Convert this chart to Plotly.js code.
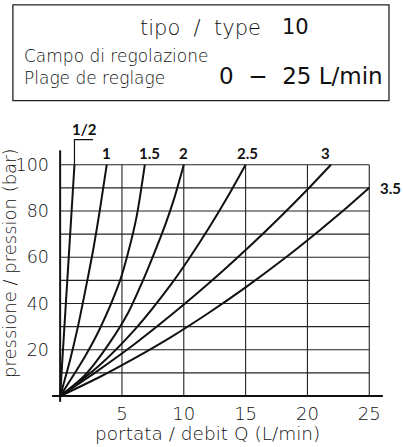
<!DOCTYPE html>
<html>
<head>
<meta charset="utf-8">
<script src="https://cdn.plot.ly/plotly-3.0.1.min.js"></script>
<style>
  html, body { margin: 0; padding: 0; background: #fff; }
  #chart { width: 403px; height: 447px; }
</style>
</head>
<body>
<div id="chart"></div>
<script>
// ---------------- DATA ----------------
const curveLabels = ['1/2', '1', '1.5', '2', '2.5', '3', '3.5'];
// flow Q (L/min) and pressure p (bar), one pair per curve
const q_half = [0, 0.3, 0.58, 0.87, 1.16];
const p_half = [0, 26, 50, 75, 100];
const q_1 = [0, 0.8, 1.43, 2.2, 2.7, 3.23, 3.77];
const p_1 = [0, 15.5, 29.8, 50, 64, 81, 100];
const q_15 = [0, 2, 3.23, 4.85, 5.5, 6.2, 6.85];
const p_15 = [0, 17, 29.3, 50, 62, 78, 100];
const q_2 = [0, 2, 4, 5.5, 6.7, 7.4, 8.5, 9.2, 10];
const p_2 = [0, 9, 23, 36, 50, 59, 74, 85, 100];
const q_25 = [0, 3, 6, 9, 10.5, 12, 13.5, 15];
const p_25 = [0, 12.4, 28.5, 48.5, 60, 72.4, 85.7, 100];
const q_3 = [0, 3, 6, 9, 12, 15, 18, 20, 21.9];
const p_3 = [0, 10.8, 22.4, 35.1, 48.6, 63.1, 78.5, 89.3, 100];
const q_35 = [0, 3, 6, 9, 12, 15, 18, 21, 23, 25];
const p_35 = [0, 7.7, 16.3, 25.6, 35.9, 47, 58.9, 71.7, 80.6, 90];

const xTicks = [5, 10, 15, 20, 25];
const yTicks = [20, 40, 60, 80, 100];
const xGrid = [5, 10, 15, 20, 25];
const yGrid = [10, 20, 30, 40, 50, 60, 70, 80, 90, 100];

const NB = '\u00A0';
const headerType = 'tipo' + NB + NB + '/' + NB + NB + 'type';
const headerTypeValue = '10';
const headerRangeIt = 'Campo di regolazione';
const headerRangeFr = 'Plage de reglage';
const headerRangeValue = '0' + NB + NB + '\u2212' + NB + NB + '25' + NB + 'L/min';
const xTitle = 'portata' + NB + '/' + NB + 'debit' + NB + 'Q' + NB + '(L/min)';
const yTitle = 'pressione / pression (bar)';

// ---------------- LAYOUT / STYLE ----------------
const W = 403, H = 447;
const xRange = [-0.9, 27], yRange = [-3, 115];
const L = 49.1, R = 394.0, T = 129.5, B = 403.3;
const px = v => (v - L) / (R - L);   // pixel -> paper x
const py = v => (B - v) / (B - T);   // pixel -> paper y

const thin = { family: '"DejaVu Sans", Lato, sans-serif', weight: 200, color: '#111' };
const ink = '#111';

const qs = [q_half, q_1, q_15, q_2, q_25, q_3, q_35];
const ps = [p_half, p_1, p_15, p_2, p_25, p_3, p_35];
const labelShift = [[10, 36], [0, 12], [5, 12], [0, 12], [2, 12], [-5, 12], [21, 0]];

const traces = qs.map((q, i) => ({
  x: q, y: ps[i], mode: 'lines', type: 'scatter',
  line: { color: ink, width: 2, shape: 'spline', smoothing: 0.8 },
  hoverinfo: 'skip', showlegend: false
}));

// leader line for the "1/2" label, from the end of its curve
const qe = q_half[q_half.length - 1], pe = p_half[p_half.length - 1];
traces.push({
  x: [qe, qe, qe + 1.5], y: [pe, pe + 10.8, pe + 10.8], mode: 'lines', type: 'scatter',
  line: { color: ink, width: 1.2 }, hoverinfo: 'skip', showlegend: false
});

const shapes = [];
yGrid.forEach(g => shapes.push({ type: 'line', xref: 'x', yref: 'y', x0: 0, x1: xGrid[xGrid.length - 1], y0: g, y1: g, line: { color: '#222', width: 1.1 }, layer: 'below' }));
xGrid.forEach(g => shapes.push({ type: 'line', xref: 'x', yref: 'y', x0: g, x1: g, y0: 0, y1: yGrid[yGrid.length - 1], line: { color: '#222', width: 1.1 }, layer: 'below' }));
// axis lines (cross at origin)
shapes.push({ type: 'line', xref: 'x', yref: 'y', x0: -0.66, x1: 26.1, y0: 0, y1: 0, line: { color: ink, width: 2 } });
shapes.push({ type: 'line', xref: 'x', yref: 'y', x0: 0, x1: 0, y0: -2.5, y1: 106.2, line: { color: ink, width: 2 } });
// header box
shapes.push({ type: 'rect', xref: 'paper', yref: 'paper', x0: px(13), x1: px(389), y0: py(100), y1: py(4), line: { color: '#222', width: 1.3 } });

const annotations = [];
curveLabels.forEach((lab, i) => {
  const q = qs[i], p = ps[i];
  annotations.push({
    xref: 'x', yref: 'y', x: q[q.length - 1], y: p[p.length - 1], text: lab, showarrow: false,
    xshift: labelShift[i][0], yshift: labelShift[i][1], xanchor: 'center', yanchor: 'middle',
    font: { family: 'Lato, "DejaVu Sans", sans-serif', weight: 700, size: 15, color: ink }
  });
});
annotations.push({ xref: 'paper', yref: 'paper', x: px(201), y: py(27), text: headerType, showarrow: false, xanchor: 'center', yanchor: 'middle', font: Object.assign({}, thin, { size: 21 }) });
annotations.push({ xref: 'paper', yref: 'paper', x: px(296), y: py(26), text: headerTypeValue, showarrow: false, xanchor: 'center', yanchor: 'middle', font: { family: '"DejaVu Sans", sans-serif', size: 21, color: ink } });
annotations.push({ xref: 'paper', yref: 'paper', x: px(22), y: py(55), text: headerRangeIt, showarrow: false, xanchor: 'left', yanchor: 'middle', font: Object.assign({}, thin, { size: 17 }) });
annotations.push({ xref: 'paper', yref: 'paper', x: px(22), y: py(77), text: headerRangeFr, showarrow: false, xanchor: 'left', yanchor: 'middle', font: Object.assign({}, thin, { size: 17 }) });
annotations.push({ xref: 'paper', yref: 'paper', x: px(301), y: py(75), text: headerRangeValue, showarrow: false, xanchor: 'center', yanchor: 'middle', font: { family: '"DejaVu Sans", sans-serif', size: 23, color: ink } });
annotations.push({ xref: 'paper', yref: 'paper', x: px(208), y: py(434), text: xTitle, showarrow: false, xanchor: 'center', yanchor: 'middle', font: Object.assign({}, thin, { size: 18.5 }) });
annotations.push({ xref: 'paper', yref: 'paper', x: px(9), y: py(263), text: yTitle, showarrow: false, textangle: -90, xanchor: 'center', yanchor: 'middle', font: Object.assign({}, thin, { size: 18 }) });

const layout = {
  width: W, height: H,
  margin: { l: L, r: W - R, t: T, b: H - B, pad: 0 },
  paper_bgcolor: '#fff', plot_bgcolor: '#fff',
  showlegend: false,
  xaxis: {
    range: xRange, tickmode: 'array', tickvals: xTicks, ticktext: xTicks.map(String),
    showgrid: false, zeroline: false, showline: false, ticks: '',
    tickfont: Object.assign({}, thin, { size: 18 }), ticklabelstandoff: -2, fixedrange: true
  },
  yaxis: {
    range: yRange, tickmode: 'array', tickvals: yTicks, ticktext: yTicks.map(String),
    showgrid: false, zeroline: false, showline: false, ticks: '',
    tickfont: Object.assign({}, thin, { size: 17.5 }), ticklabelstandoff: -1, fixedrange: true
  },
  shapes: shapes,
  annotations: annotations
};

Plotly.newPlot('chart', traces, layout, { staticPlot: true, displayModeBar: false });
</script>
</body>
</html>
